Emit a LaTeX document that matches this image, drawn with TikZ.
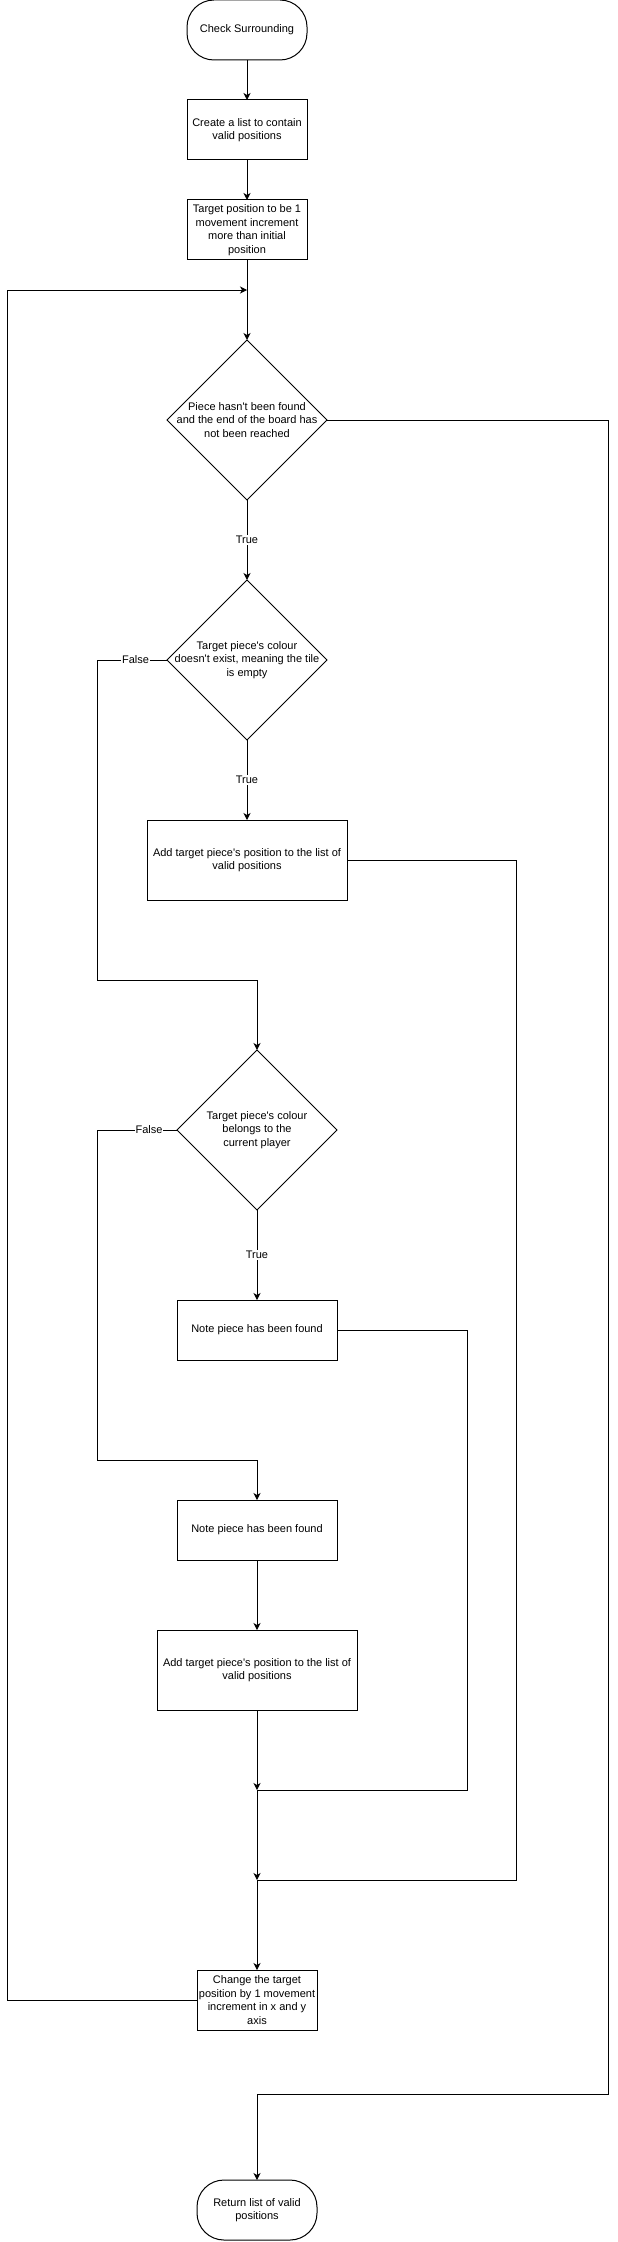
\documentclass[tikz,border=0pt]{standalone}
\usepackage{fontspec}
\newfontfamily\flowfont{Liberation Sans}
\usetikzlibrary{arrows.meta,positioning,shapes.geometric,calc}

\begin{document}
\begin{tikzpicture}[
    x=1pt, y=-1pt,
    node distance=40pt,
    line width=1pt,
    every node/.style={font=\flowfont\fontsize{11}{13.5}\selectfont},
    terminal/.style={
        rectangle,
        rounded corners=27pt,
        draw,
        align=center,
        minimum width=120pt,
        minimum height=60pt,
        inner sep=1pt,
        outer sep=0pt
    },
    process/.style={
        rectangle,
        draw,
        align=center,
        minimum width=120pt,
        minimum height=60pt,
        inner sep=1pt,
        outer sep=0pt
    },
    decision/.style={
        diamond,
        draw,
        aspect=1,
        minimum width=160pt,
        minimum height=160pt,
        inner sep=0pt,
        outer sep=0pt
    },
    lbl/.style={fill=white, inner sep=1pt},
    arrow/.style={-{Stealth[length=7pt,width=7pt,inset=2pt]}}
]

\useasboundingbox (0,0) rectangle (618,2242);

\node[terminal] (start) at (247,30) {Check Surrounding};

\node[process, below=of start] (makelist)
{Create a list to contain\\valid positions};

\node[process, below=of makelist] (settarget)
{Target position to be 1\\movement increment\\more than initial\\position};

\node[decision, below=80pt of settarget,
    label={[align=center]center:{Piece hasn't been found\\and the end of the board has\\not been reached}}] (loopcheck) {};

\node[decision, below=80pt of loopcheck,
    label={[align=center]center:{Target piece's colour\\doesn't exist, meaning the tile\\is empty}}] (emptycheck) {};

\node[process, minimum width=200pt, minimum height=80pt, below=80pt of emptycheck] (addfirst)
{Add target piece's position to the list of\\valid positions};

\node[decision, below=150pt of addfirst, xshift=10pt,
    label={[align=center]center:{Target piece's colour\\belongs to the\\current player}}] (owncheck) {};

\node[process, minimum width=160pt, below=90pt of owncheck] (notefound)
{Note piece has been found};

\node[process, minimum width=160pt, below=140pt of notefound] (notefoundb)
{Note piece has been found};

\node[process, minimum width=200pt, minimum height=80pt, below=70pt of notefoundb] (addsecond)
{Add target piece's position to the list of\\valid positions};

\node[process, below=260pt of addsecond] (advance)
{Change the target\\position by 1 movement\\increment in x and y\\axis};

\node[terminal, below=150pt of advance] (finish)
{Return list of valid\\positions};

\coordinate (loopin) at ($(settarget.south)!0.375!(loopcheck.north)$);
\coordinate (falseone) at ($(owncheck.north)+(0,-70)$);
\coordinate (falsetwo) at ($(notefoundb.north)+(0,-40)$);
\coordinate (joinone) at ($(addsecond.south)+(0,80)$);
\coordinate (jointwo) at ($(joinone)+(0,90)$);
\coordinate (joinend) at ($(finish.north)+(0,-86)$);

\draw[arrow] (start) -- (makelist);
\draw[arrow] (makelist) -- (settarget);
\draw[arrow] (settarget) -- (loopcheck);

\draw[arrow] (loopcheck) -- node[lbl]{True} (emptycheck);
\draw[arrow] (loopcheck.east) -- ++(281,0) |- (joinend) -- (finish.north);

\draw[arrow] (emptycheck) -- node[lbl]{True} (addfirst);
\draw[arrow] (emptycheck.west) -- node[lbl, pos=0.45]{False} ++(-70,0)
    |- (falseone) -- (owncheck.north);

\draw[arrow] (owncheck) -- node[lbl]{True} (notefound);
\draw[arrow] (owncheck.west) -- node[lbl, pos=0.35]{False} ++(-80,0)
    |- (falsetwo) -- (notefoundb.north);

\draw[arrow] (notefoundb) -- (addsecond);

\draw[arrow] (addsecond) -- (joinone);
\draw (notefound.east) -- ++(130,0) |- (joinone);

\draw[arrow] (joinone) -- (jointwo);
\draw (addfirst.east) -- ++(169,0) |- (jointwo);

\draw[arrow] (jointwo) -- (advance);
\draw[arrow] (advance.west) -- ++(-190,0) |- (loopin);

\end{tikzpicture}
\end{document}
